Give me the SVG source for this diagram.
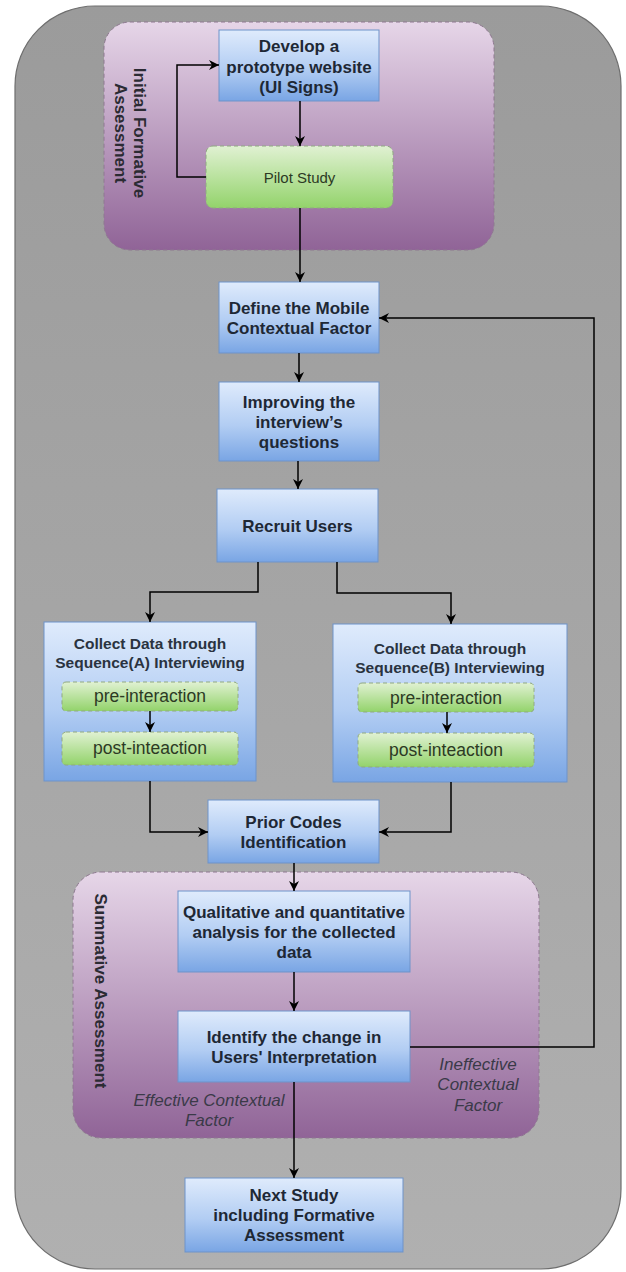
<svg xmlns="http://www.w3.org/2000/svg" width="626" height="1272" viewBox="0 0 626 1272">
<defs>
<linearGradient id="gOuter" x1="0" y1="0" x2="0" y2="1"><stop offset="0" stop-color="#9b9b9b"/><stop offset="1" stop-color="#b0b0b0"/></linearGradient>
<linearGradient id="gPurple" x1="0" y1="0" x2="0" y2="1"><stop offset="0" stop-color="#e6d6e8"/><stop offset="1" stop-color="#906497"/></linearGradient>
<linearGradient id="gBlue" x1="0" y1="0" x2="0" y2="1"><stop offset="0" stop-color="#dfebfc"/><stop offset="0.55" stop-color="#b2cdf3"/><stop offset="1" stop-color="#79a5e4"/></linearGradient>
<linearGradient id="gGreen" x1="0" y1="0" x2="0" y2="1"><stop offset="0" stop-color="#e0f1d2"/><stop offset="1" stop-color="#93d36b"/></linearGradient>
<marker id="arr" viewBox="0 0 10 10" refX="10" refY="5" markerWidth="10" markerHeight="10" markerUnits="userSpaceOnUse" orient="auto">
<path d="M0,0 L10,5 L0,10 L3,5 z" fill="#000"/>
</marker>
<style>
.cont{fill:url(#gPurple);stroke:#8e7990;stroke-width:1;stroke-dasharray:4 3}
.blue{fill:url(#gBlue);stroke:#6e93c9;stroke-width:1}
.green{fill:url(#gGreen);stroke:#8fa882;stroke-width:1;stroke-dasharray:4 3}
.t{font-family:"Liberation Sans",Arial,sans-serif;font-weight:bold;font-size:17px;fill:#1e2835;text-anchor:middle}
.ts{font-family:"Liberation Sans",Arial,sans-serif;font-weight:bold;font-size:15.5px;fill:#2a3340;text-anchor:middle}
.tg{font-family:"Liberation Sans",Arial,sans-serif;font-size:17.5px;fill:#2c3a24;text-anchor:middle}
.tp{font-family:"Liberation Sans",Arial,sans-serif;font-size:15px;fill:#2c3a24;text-anchor:middle}
.tl{font-family:"Liberation Sans",Arial,sans-serif;font-weight:bold;font-size:17px;fill:#2b2b33;text-anchor:middle}
.ti{font-family:"Liberation Sans",Arial,sans-serif;font-style:italic;font-size:17px;fill:#3a3a48;text-anchor:middle}
.c{fill:none;stroke:#000;stroke-width:1.5;marker-end:url(#arr)}
</style>
</defs>
<rect id="background" x="15" y="6" width="606" height="1263" rx="80" ry="80" fill="url(#gOuter)" stroke="#6e6e6e" stroke-width="1.2"/>

<g id="initial-formative">
<rect class="cont" x="104" y="22" width="390" height="228" rx="26"/>
<g transform="translate(125,133) rotate(90)">
<text class="tl" x="0" y="-9">Initial Formative</text>
<text class="tl" x="0" y="10">Assessment</text>
</g>
</g>

<g id="summative">
<rect class="cont" x="73" y="872" width="466" height="266" rx="28"/>
<g transform="translate(100,991) rotate(90)">
<text class="tl" x="0" y="5" font-size="17.5">Summative Assessment</text>
</g>
</g>

<g id="develop">
<rect class="blue" x="219" y="30" width="160" height="71"/>
<text class="t" x="299" y="52" font-size="16.5">Develop a</text>
<text class="t" x="299" y="72.5" font-size="16.5">prototype website</text>
<text class="t" x="299" y="93" font-size="16.5">(UI Signs)</text>
</g>

<g id="pilot">
<rect class="green" x="206" y="146" width="187" height="62" rx="7"/>
<text class="tp" x="299.5" y="183">Pilot Study</text>
</g>

<g id="define">
<rect class="blue" x="219" y="282" width="160" height="71"/>
<text class="t" x="299" y="314">Define the Mobile</text>
<text class="t" x="299" y="334">Contextual Factor</text>
</g>

<g id="improving">
<rect class="blue" x="219" y="382" width="160" height="79"/>
<text class="t" x="299" y="408">Improving the</text>
<text class="t" x="299" y="428">interview’s</text>
<text class="t" x="299" y="448">questions</text>
</g>

<g id="recruit">
<rect class="blue" x="217" y="489" width="161" height="73"/>
<text class="t" x="297.5" y="532">Recruit Users</text>
</g>

<g id="collect-a">
<rect class="blue" x="44" y="622" width="212" height="159"/>
<text class="ts" x="150" y="649">Collect Data through</text>
<text class="ts" x="150" y="668">Sequence(A) Interviewing</text>
<g id="pre-a">
<rect class="green" x="62" y="682" width="176" height="29" rx="4"/>
<text class="tg" x="150" y="702">pre-interaction</text>
</g>
<g id="post-a">
<rect class="green" x="62" y="732" width="176" height="33" rx="4"/>
<text class="tg" x="150" y="754">post-inteaction</text>
</g>
</g>

<g id="collect-b">
<rect class="blue" x="333" y="624" width="234" height="158"/>
<text class="ts" x="450" y="654">Collect Data through</text>
<text class="ts" x="450" y="673">Sequence(B) Interviewing</text>
<g id="pre-b">
<rect class="green" x="358" y="683" width="176" height="29" rx="4"/>
<text class="tg" x="446" y="704">pre-interaction</text>
</g>
<g id="post-b">
<rect class="green" x="358" y="733" width="176" height="34" rx="4"/>
<text class="tg" x="446" y="756">post-inteaction</text>
</g>
</g>

<g id="prior">
<rect class="blue" x="208" y="800" width="171" height="63"/>
<text class="t" x="293.5" y="828">Prior Codes</text>
<text class="t" x="293.5" y="848">Identification</text>
</g>

<g id="qualitative">
<rect class="blue" x="178" y="891" width="232" height="81"/>
<text class="t" x="294" y="918">Qualitative and quantitative</text>
<text class="t" x="294" y="938">analysis for the collected</text>
<text class="t" x="294" y="958">data</text>
</g>

<g id="identify">
<rect class="blue" x="178" y="1011" width="232" height="71"/>
<text class="t" x="294" y="1043">Identify the change in</text>
<text class="t" x="294" y="1063">Users' Interpretation</text>
</g>

<g id="labels">
<text class="ti" x="478" y="1070">Ineffective</text>
<text class="ti" x="478" y="1090">Contextual</text>
<text class="ti" x="478" y="1111">Factor</text>
<text class="ti" x="209" y="1106">Effective Contextual</text>
<text class="ti" x="209" y="1126">Factor</text>
</g>

<g id="next">
<rect class="blue" x="185" y="1178" width="218" height="74"/>
<text class="t" x="294" y="1201">Next Study</text>
<text class="t" x="294" y="1221">including Formative</text>
<text class="t" x="294" y="1241">Assessment</text>
</g>

<g id="connectors">
<path class="c" d="M206,177 H177 V65 H219"/>
<path class="c" d="M300,101 V146"/>
<path class="c" d="M300,208 V282"/>
<path class="c" d="M299,353 V382"/>
<path class="c" d="M298,461 V489"/>
<path class="c" d="M258,562 V592 H150 V622"/>
<path class="c" d="M337,562 V593 H451 V624"/>
<path class="c" d="M150,711 V732"/>
<path class="c" d="M447,712 V733"/>
<path class="c" d="M150,781 V832 H208"/>
<path class="c" d="M451,782 V832 H379"/>
<path class="c" d="M294,863 V891"/>
<path class="c" d="M294,972 V1011"/>
<path class="c" d="M410,1047 H594 V318 H379"/>
<path class="c" d="M294,1082 V1178"/>
</g>
</svg>
